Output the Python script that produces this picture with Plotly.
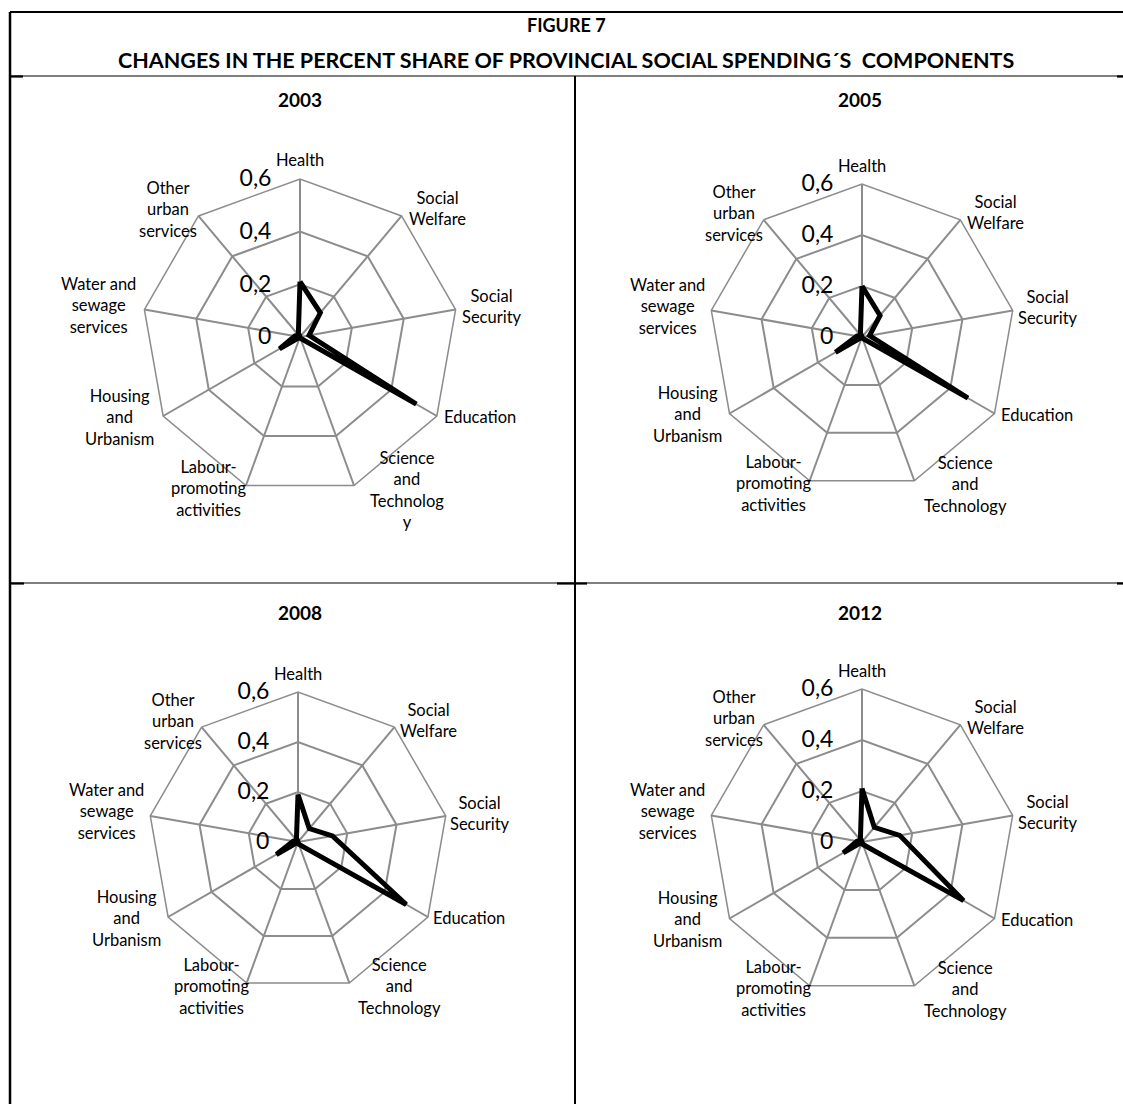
import math
import plotly.graph_objects as go

# Spending components, clockwise from the top
categories = [
    "Health", "Social Welfare", "Social Security", "Education",
    "Science and Technology", "Labour-promoting activities",
    "Housing and Urbanism", "Water and sewage services", "Other urban services",
]

# Wrapped category labels (2003 panel wraps "Technology" differently)
labels_default = [
    "Health", "Social<br>Welfare", "Social<br>Security", "Education",
    "Science<br>and<br>Technology", "Labour-<br>promoting<br>activities",
    "Housing<br>and<br>Urbanism", "Water and<br>sewage<br>services",
    "Other<br>urban<br>services",
]
labels_2003 = labels_default[:4] + ["Science<br>and<br>Technolog<br>y"] + labels_default[5:]

# Share of each component in provincial social spending
share_2003 = [0.21, 0.12, 0.035, 0.51, 0.005, 0.00, 0.09, 0.02, 0.01]
share_2005 = [0.20, 0.11, 0.03, 0.48, 0.005, 0.00, 0.12, 0.02, 0.01]
share_2008 = [0.19, 0.07, 0.14, 0.50, 0.01, 0.00, 0.10, 0.02, 0.01]
share_2012 = [0.21, 0.075, 0.15, 0.46, 0.01, 0.00, 0.085, 0.02, 0.01]

years = ["2003", "2005", "2008", "2012"]
shares = [share_2003, share_2005, share_2008, share_2012]
labels = [labels_2003, labels_default, labels_default, labels_default]

radial_ticks = [0, 0.2, 0.4, 0.6]
radial_text = ["0", "0,2", "0,4", "0,6"]

W, H = 1123, 1104
FONT = "Lato"
GRID = "#8c8c8c"

# panel centres and radii in pixels
panels = [(300, 337, 158), (862, 337, 153), (298, 842, 150), (862, 842, 153)]
year_pos = [(300, 100), (860, 100), (300, 612), (860, 612)]

# where each category label sits: bearing (deg, clockwise from top) and distance in radii
label_bearing = [0, 47, 81, 114, 145, 211, 246, 279, 314]
label_dist = [1.12, 1.19, 1.23, 1.25, 1.18, 1.12, 1.25, 1.29, 1.16]

fig = go.Figure()
layout = {}
annotations = []
for i, (yr, vals, labs, (cx, cy, R)) in enumerate(zip(years, shares, labels, panels)):
    key = "polar" if i == 0 else f"polar{i + 1}"
    fig.add_trace(go.Scatterpolar(
        r=vals + vals[:1],
        theta=categories + categories[:1],
        mode="lines",
        line=dict(color="black", width=5),
        subplot=key,
        showlegend=False,
        hoverinfo="skip",
    ))
    layout[key] = dict(
        domain=dict(x=[(cx - R) / W, (cx + R) / W], y=[1 - (cy + R) / H, 1 - (cy - R) / H]),
        gridshape="linear",
        bgcolor="white",
        angularaxis=dict(
            rotation=90, direction="clockwise",
            categoryorder="array", categoryarray=categories,
            showticklabels=False, ticks="",
            showline=True, linecolor=GRID, linewidth=1.5,
            gridcolor=GRID, gridwidth=1.5,
        ),
        radialaxis=dict(
            range=[0, 0.6], tickmode="array", tickvals=radial_ticks, ticktext=radial_text,
            angle=90, tickangle=90, side="counterclockwise",
            tickfont=dict(family=FONT, size=23, color="black"),
            showline=False, gridcolor=GRID, gridwidth=1.5,
            ticks="outside", ticklen=20, tickcolor="rgba(0,0,0,0)",
        ),
    )
    # centred, multi-line category labels around the outer ring
    for text, b, d in zip(labs, label_bearing, label_dist):
        a = math.radians(b)
        px = cx + d * R * math.sin(a)
        py = cy - d * R * math.cos(a)
        annotations.append(dict(
            text=text, x=px / W, y=1 - py / H, xref="paper", yref="paper",
            xanchor="center", yanchor="middle", align="center", showarrow=False,
            font=dict(family=FONT, size=16.5, color="black"),
        ))

annotations += [
    dict(text="<b>FIGURE 7</b>", x=566 / W, y=1 - 25 / H, xref="paper", yref="paper",
         xanchor="center", yanchor="middle", showarrow=False,
         font=dict(family=FONT, size=18, color="black")),
    dict(text="<b>CHANGES IN THE PERCENT SHARE OF PROVINCIAL SOCIAL SPENDING\u00b4S  COMPONENTS</b>",
         x=566 / W, y=1 - 60 / H, xref="paper", yref="paper",
         xanchor="center", yanchor="middle", showarrow=False,
         font=dict(family=FONT, size=21.5, color="black")),
]
for yr, (x, y) in zip(years, year_pos):
    annotations.append(dict(text=f"<b>{yr}</b>", x=x / W, y=1 - y / H, xref="paper", yref="paper",
                            xanchor="center", yanchor="middle", showarrow=False,
                            font=dict(family=FONT, size=19, color="black")))

def hline(y, x0, x1, w):
    return dict(type="line", xref="paper", yref="paper", x0=x0 / W, x1=x1 / W,
                y0=1 - y / H, y1=1 - y / H, line=dict(color="black", width=w))

def vline(x, y0, y1, w):
    return dict(type="line", xref="paper", yref="paper", x0=x / W, x1=x / W,
                y0=1 - y0 / H, y1=1 - y1 / H, line=dict(color="black", width=w))

# table-style frame around the title and the four panels
shapes = [
    hline(12, 10, W, 2),
    vline(10, 12, H, 2.5),
    hline(76, 10, W, 1.2),
    vline(575, 76, H, 2),
    hline(583, 10, W, 1.2),
    # heavier cell-border stubs at the joints
    hline(76.5, 10, 23, 2.2),
    hline(76.5, 1117, W, 2.2),
    hline(583.5, 10, 24, 2.2),
    hline(583.5, 557, 587, 2.2),
    hline(583.5, 1117, W, 2.2),
]

fig.update_layout(
    width=W, height=H,
    margin=dict(l=0, r=0, t=0, b=0),
    paper_bgcolor="white",
    annotations=annotations,
    shapes=shapes,
    **layout,
)

fig.write_html("out.html")
